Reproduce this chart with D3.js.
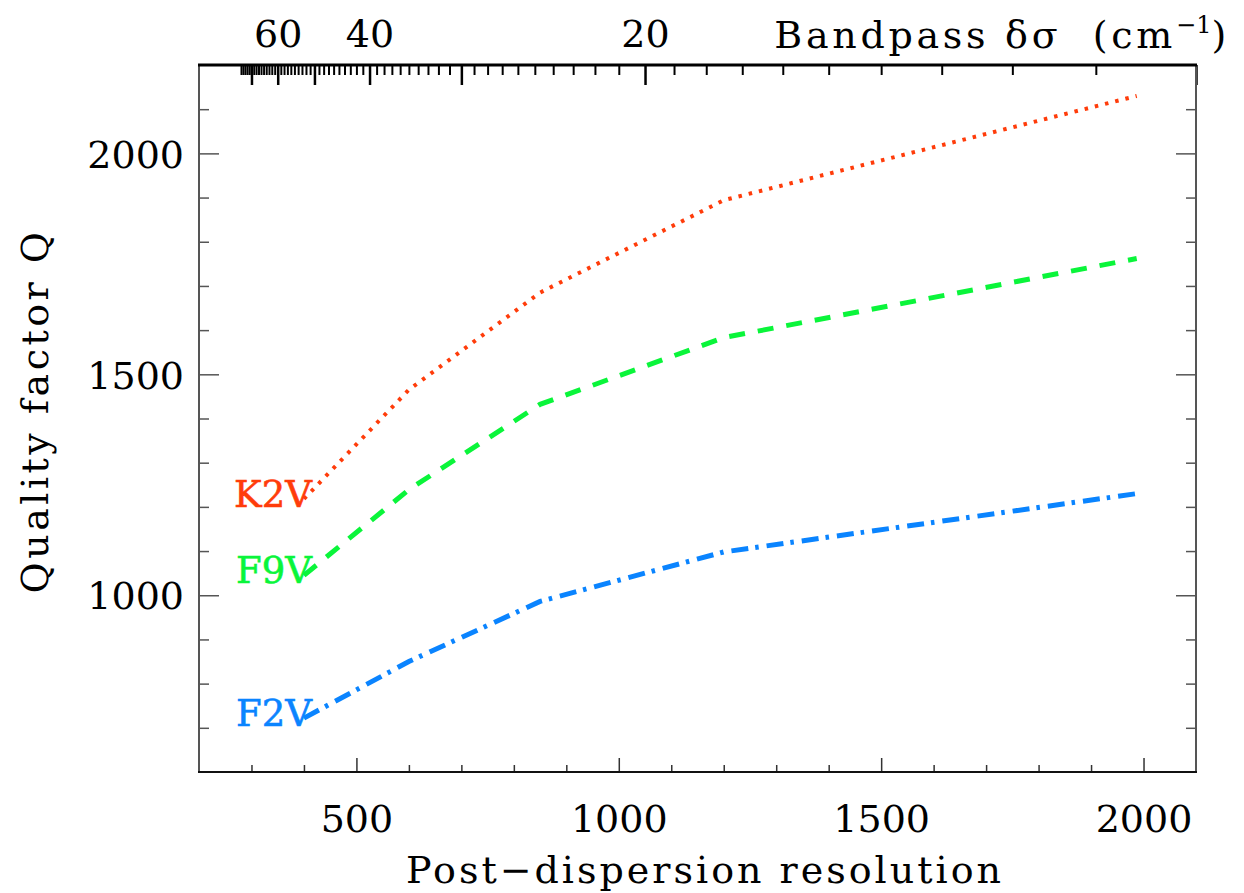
<!DOCTYPE html>
<html>
<head>
<meta charset="utf-8">
<script src="https://cdn.jsdelivr.net/npm/d3@7"></script>
<style>
  body { margin: 0; background: #fff; }
  text { font-family: "DejaVu Serif", serif; }
</style>
</head>
<body>
<script>
//data
var resolution = [400, 600, 850, 1200, 1987];
var qK2V = [1218, 1465, 1685, 1894, 2130];
var qF9V = [1045, 1239, 1432, 1583, 1762];
var qF2V = [722, 850, 986, 1098, 1230];
var starNames = ["K2V", "F9V", "F2V"];
var bottomLabels = [500, 1000, 1500, 2000];
var leftLabels = [1000, 1500, 2000];
var topLabels = [60, 40, 20];
var topMajor = [70, 60, 50, 40, 30, 20, 10];

window.onload = function(){

    var w = 1244, h = 893;
    var pLeft = 199, pRight = 1196, pTop = 65, pBottom = 772;
    var sigmaConst = 21000; //bandpass = sigmaConst / resolution
    var fmt = d3.format("d");

    var svg = d3.select("body").append("svg")
        .attr("width", w)
        .attr("height", h);

    var x = d3.scaleLinear().domain([200, 2100]).range([pLeft, pRight]);
    var y = d3.scaleLinear().domain([600, 2200]).range([pBottom, pTop]);

    //bottom axis: minor ticks every 100, long ones every 500
    var bottomMinor = d3.range(300, 2100, 100);
    svg.append("g")
        .attr("transform", "translate(0," + pBottom + ")")
        .call(d3.axisTop(x).tickValues(bottomMinor).tickFormat(""))
        .call(function(g){
            g.select(".domain").remove();
            g.selectAll("line").attr("stroke", "#333").attr("stroke-width", 1.5)
                .attr("y2", function(d){ return d % 500 === 0 ? -14 : -7; });
        });
    svg.append("g")
        .attr("transform", "translate(0," + (pBottom + 31) + ")")
        .call(d3.axisBottom(x).tickValues(bottomLabels).tickSize(0).tickPadding(0).tickFormat(fmt))
        .call(function(g){
            g.select(".domain").remove();
            g.selectAll("text").attr("font-size", 38).attr("fill", "#000")
                .attr("font-family", "DejaVu Serif").attr("dy", 29);
        });

    //left and right axes
    var yMinor = d3.range(700, 2200, 100);
    function yTicks(g, dir){
        g.select(".domain").remove();
        g.selectAll("line").attr("stroke", "#555").attr("stroke-width", 1.5)
            .attr("x2", function(d){ return dir * (d % 500 === 0 ? 20 : 10); });
    }
    svg.append("g")
        .attr("transform", "translate(" + pLeft + ",0)")
        .call(d3.axisRight(y).tickValues(yMinor).tickFormat(""))
        .call(yTicks, 1);
    svg.append("g")
        .attr("transform", "translate(" + pRight + ",0)")
        .call(d3.axisLeft(y).tickValues(yMinor).tickFormat(""))
        .call(yTicks, -1);
    svg.append("g")
        .attr("transform", "translate(" + 184 + ",0)")
        .call(d3.axisLeft(y).tickValues(leftLabels).tickSize(0).tickPadding(0).tickFormat(fmt))
        .call(function(g){
            g.select(".domain").remove();
            g.selectAll("text").attr("font-size", 38).attr("fill", "#000")
                .attr("font-family", "DejaVu Serif").attr("dy", "0.36em");
        });

    //top axis: bandpass, a tick every 1 cm-1 placed through the resolution scale
    var topMinor = d3.range(10, 76, 1);
    function toRes(s){ return sigmaConst / s; }
    svg.append("g")
        .attr("transform", "translate(0," + pTop + ")")
        .call(d3.axisBottom(x).tickValues(topMinor.map(toRes)).tickFormat(""))
        .call(function(g){
            g.select(".domain").remove();
            g.selectAll("line")
                .attr("stroke", "#000")
                .attr("stroke-width", function(d){
                    var s = Math.round(sigmaConst / d);
                    return topMajor.indexOf(s) >= 0 ? 2.5 : 2;
                })
                .attr("y2", function(d){
                    var s = Math.round(sigmaConst / d);
                    return topMajor.indexOf(s) >= 0 ? 20 : 10;
                });
        });
    svg.append("g")
        .attr("transform", "translate(0,47)")
        .call(d3.axisTop(x).tickValues(topLabels.map(toRes)).tickSize(0).tickPadding(0)
            .tickFormat(function(d){ return Math.round(sigmaConst / d); }))
        .call(function(g){
            g.select(".domain").remove();
            g.selectAll("text").attr("font-size", 38).attr("fill", "#000")
                .attr("font-family", "DejaVu Serif").attr("dy", 0);
        });

    //frame
    svg.append("line").attr("x1", pLeft).attr("x2", pLeft).attr("y1", pTop).attr("y2", pBottom)
        .attr("stroke", "#555").attr("stroke-width", 2);
    svg.append("line").attr("x1", pRight).attr("x2", pRight).attr("y1", pTop).attr("y2", pBottom)
        .attr("stroke", "#555").attr("stroke-width", 2);
    svg.append("line").attr("x1", pLeft - 1).attr("x2", pRight + 1).attr("y1", pBottom).attr("y2", pBottom)
        .attr("stroke", "#111").attr("stroke-width", 2);
    svg.append("line").attr("x1", pLeft - 1).attr("x2", pRight + 1).attr("y1", pTop).attr("y2", pTop)
        .attr("stroke", "#000").attr("stroke-width", 3);

    //series
    var series = [
        {name: starNames[0], q: qK2V, color: "#ff3c0a", dash: "3.5,7", width: 4},
        {name: starNames[1], q: qF9V, color: "#0af53a", dash: "16,13", width: 5},
        {name: starNames[2], q: qF2V, color: "#0a84ff", dash: "17,7,3.5,8", width: 5}
    ];

    var line = d3.line()
        .x(function(d){ return x(d[0]); })
        .y(function(d){ return y(d[1]); });

    svg.selectAll(".series")
        .data(series)
        .enter()
        .append("path")
        .attr("class", "series")
        .attr("d", function(d){
            return line(resolution.map(function(r, i){ return [r, d.q[i]]; }));
        })
        .attr("fill", "none")
        .attr("stroke", function(d){ return d.color; })
        .attr("stroke-width", function(d){ return d.width; })
        .attr("stroke-dasharray", function(d){ return d.dash; });

    //star labels next to the first point
    svg.selectAll(".starLabel")
        .data(series)
        .enter()
        .append("text")
        .attr("class", "starLabel")
        .attr("x", x(resolution[0]) + 8)
        .attr("y", function(d){ return y(d.q[0]) + 8; })
        .attr("text-anchor", "end")
        .attr("font-size", 37)
        .attr("stroke", function(d){ return d.color; })
        .attr("stroke-width", 0.6)
        .attr("fill", function(d){ return d.color; })
        .text(function(d){ return d.name; });

    //axis titles
    svg.append("text")
        .attr("x", 705)
        .attr("y", 883)
        .attr("text-anchor", "middle")
        .attr("font-size", 38)
        .attr("letter-spacing", 3)
        .text("Post\u2212dispersion resolution");

    svg.append("text")
        .attr("transform", "translate(48,411) rotate(-90)")
        .attr("text-anchor", "middle")
        .attr("font-size", 38)
        .attr("letter-spacing", 3.5)
        .text("Quality factor Q");

    var bandTitle = svg.append("text")
        .attr("x", 1230)
        .attr("y", 48)
        .attr("text-anchor", "end")
        .attr("font-size", 38)
        .attr("letter-spacing", 3.7)
        .style("white-space", "pre");
    bandTitle.append("tspan").text("Bandpass \u03b4\u03c3  (cm");
    bandTitle.append("tspan").attr("dy", -15).attr("font-size", 24).attr("letter-spacing", 0).text("\u22121");
    bandTitle.append("tspan").attr("dy", 15).text(")");
};
</script>
</body>
</html>
